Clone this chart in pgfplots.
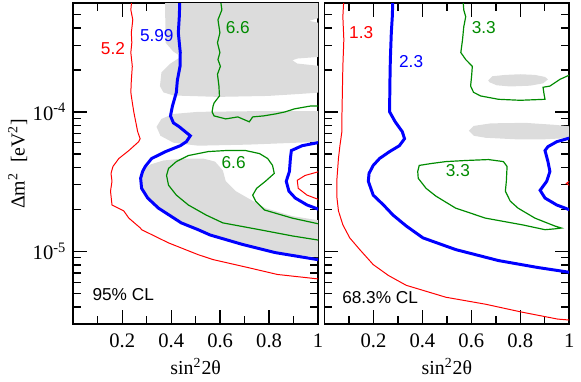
\documentclass[border=0pt]{standalone}
\usepackage{fontspec}
\setmainfont{Liberation Serif}
\newfontfamily\lsans{Liberation Sans}
\usepackage{pgfplots}
\pgfplotsset{compat=1.18}
\definecolor{cred}{RGB}{255,0,0}
\definecolor{cblue}{RGB}{0,0,255}
\definecolor{cgreen}{RGB}{0,139,0}
\definecolor{shade}{HTML}{DCDCDC}
\tikzset{
  thinred/.style={cred, line width=0.5pt},
  thickblue/.style={cblue, line width=1.5pt},
  midgreen/.style={cgreen, line width=0.6pt},
  lab/.style={font=\lsans\fontsize{8.7}{10}\selectfont, inner sep=0pt},
}

\begin{document}
\begin{tikzpicture}
% ---------- 95% CL ----------
\begin{axis}[name=L, ymode=log,
    width=123.5pt, height=162pt, scale only axis,
    xmin=0, xmax=1, ymin=3e-6, ymax=6e-4,
    xtick={0.2,0.4,0.6,0.8,1},
    xticklabels={\textrm{0.2},\textrm{0.4},\textrm{0.6},\textrm{0.8},\textrm{1}},
    minor xtick={0.1,0.3,0.5,0.7,0.9},
    ytick={1e-5,1e-4},
    minor ytick={4e-6,5e-6,6e-6,7e-6,8e-6,9e-6,2e-5,3e-5,4e-5,5e-5,6e-5,7e-5,8e-5,9e-5,2e-4,3e-4,4e-4,5e-4},
    tick align=inside, xtick pos=both, ytick pos=both,
    major tick length=7pt, minor tick length=4pt,
    every tick/.style={black, line width=0.7pt},
    axis line style={line width=0.9pt},
    tick label style={font=\fontsize{10.4}{12}\selectfont},
    xticklabel style={yshift=-1.2pt},
    label style={font=\fontsize{10}{12}\selectfont},
    xlabel={sin\textsuperscript{2}2θ},
    xlabel style={at={(axis description cs:0.5,-0.132)}, anchor=center},
    yticklabels={\textrm{10\textsuperscript{-5}},\textrm{10\textsuperscript{-4}}},
    ylabel={Δm\textsuperscript{2}\ \ [eV\textsuperscript{2}]},
    ylabel style={at={(axis description cs:-0.227,0.5)}, anchor=center}]
\addplot[fill=shade, draw=none] coordinates {(0.377,7e-4) (0.375,5.65e-4) (0.377,3.13e-4) (0.409,2.70e-4) (0.441,2.49e-4) (0.397,2.22e-4) (0.360,1.92e-4) (0.354,1.53e-4) (0.368,1.38e-4) (0.409,1.31e-4) (0.591,1.28e-4) (0.794,1.30e-4) (0.915,1.34e-4) (1.02,1.38e-4) (1.02,2.12e-4) (0.915,2.22e-4) (0.895,2.34e-4) (0.915,2.41e-4) (1.02,2.49e-4) (1.02,4.28e-4) (0.964,4.49e-4) (1.02,4.8e-4) (1.02,7e-4)} -- cycle;
\addplot[fill=shade, draw=none] coordinates {(1.02,1.01e-4) (0.713,1.01e-4) (0.510,1.0e-4) (0.409,9.66e-5) (0.360,8.9e-5) (0.340,7.81e-5) (0.356,6.74e-5) (0.409,6.01e-5) (0.510,5.72e-5) (0.713,5.82e-5) (1.02,6.11e-5)} -- cycle;
\addplot[fill=shade, draw=none] coordinates {(0.275,3.34e-5) (0.287,3.87e-5) (0.316,4.20e-5) (0.368,4.48e-5) (0.449,4.63e-5) (0.530,4.63e-5) (0.579,4.40e-5) (0.611,3.80e-5) (0.623,3.18e-5) (0.664,2.70e-5) (0.713,2.41e-5) (0.785,2.04e-5) (0.895,1.79e-5) (1.02,1.65e-5) (1.02,9.0e-6) (0.826,9.79e-6) (0.692,1.12e-5) (0.559,1.31e-5) (0.510,1.43e-5) (0.441,1.60e-5) (0.348,2.04e-5) (0.304,2.41e-5) (0.279,2.83e-5)} -- cycle;
% 5.2
\addplot[thinred] coordinates {(0.241,7e-4) (0.235,5.38e-4) (0.243,4.57e-4) (0.237,3.69e-4) (0.239,3.13e-4) (0.235,2.66e-4) (0.241,2.12e-4) (0.237,1.68e-4) (0.235,1.38e-4) (0.239,1.23e-4) (0.247,1.0e-4) (0.255,8.48e-5) (0.263,7.2e-5) (0.273,6.42e-5) (0.267,6.11e-5) (0.227,5.28e-5) (0.186,4.63e-5) (0.162,4.06e-5) (0.154,3.62e-5) (0.158,3.18e-5) (0.152,2.70e-5) (0.158,2.15e-5) (0.206,1.95e-5) (0.227,1.73e-5) (0.274,1.47e-5) (0.279,1.43e-5) (0.389,1.15e-5) (0.510,9.47e-6) (0.571,8.73e-6) (0.713,7.66e-6) (0.834,6.83e-6) (1.02,6.29e-6)};
\addplot[thinred] coordinates {(1.02,3.8e-5) (0.947,3.5e-5) (0.915,3.23e-5) (0.919,2.83e-5) (0.955,2.53e-5) (1.02,2.29e-5)};
% 5.99
\addplot[thickblue] coordinates {(0.436,7e-4) (0.433,4.8e-4) (0.429,3.69e-4) (0.437,2.66e-4) (0.436,2.12e-4) (0.425,1.68e-4) (0.421,1.38e-4) (0.405,1.10e-4) (0.397,9.35e-5) (0.409,8.34e-5) (0.433,7.81e-5) (0.478,6.74e-5) (0.462,6.11e-5) (0.437,5.72e-5) (0.377,5.19e-5) (0.320,4.63e-5) (0.294,4.06e-5) (0.283,3.74e-5) (0.275,3.34e-5) (0.279,2.83e-5) (0.304,2.41e-5) (0.348,2.04e-5) (0.441,1.60e-5) (0.510,1.43e-5) (0.559,1.31e-5) (0.692,1.12e-5) (0.826,9.79e-6) (1.02,8.6e-6)};
\addplot[thickblue] coordinates {(1.02,6.11e-5) (0.935,5.72e-5) (0.891,5.28e-5) (0.887,4.63e-5) (0.883,3.74e-5) (0.870,3.18e-5) (0.881,2.70e-5) (0.907,2.41e-5) (0.955,2.15e-5) (1.02,1.95e-5)};
% 6.6
\addplot[midgreen] coordinates {(0.598,7e-4) (0.607,5.38e-4) (0.591,4.57e-4) (0.599,3.69e-4) (0.589,3.13e-4) (0.599,2.66e-4) (0.591,2.37e-4) (0.601,2.12e-4) (0.589,1.86e-4) (0.595,1.53e-4) (0.597,1.30e-4) (0.575,1.156e-4) (0.571,1.10e-4) (0.567,1.0e-4) (0.575,9.35e-5) (0.623,8.9e-5) (0.672,9.2e-5) (0.719,8.48e-5) (0.733,9.2e-5) (0.777,9.35e-5) (0.826,9.66e-5) (0.866,1.0e-4) (0.903,1.05e-4) (0.968,1.10e-4) (1.02,1.10e-4)};
\addplot[midgreen] coordinates {(1.02,1.55e-5) (0.895,1.73e-5) (0.781,1.98e-5) (0.745,2.29e-5) (0.733,2.53e-5) (0.749,2.83e-5) (0.785,3.18e-5) (0.821,3.62e-5) (0.814,4.13e-5) (0.794,4.63e-5) (0.761,5.02e-5) (0.704,5.28e-5) (0.623,5.28e-5) (0.551,5.19e-5) (0.470,4.86e-5) (0.421,4.40e-5) (0.389,3.93e-5) (0.381,3.50e-5) (0.389,2.98e-5) (0.421,2.53e-5) (0.470,2.15e-5) (0.543,1.82e-5) (0.611,1.60e-5) (0.761,1.43e-5) (0.895,1.29e-5) (1.02,1.19e-5)};
\node[lab, text=cred] at (axis cs:0.162,2.84e-4) {5.2};
\node[lab, text=cblue] at (axis cs:0.341,3.54e-4) {5.99};
\node[lab, text=cgreen] at (axis cs:0.672,4.04e-4) {6.6};
\node[lab, text=cgreen] at (axis cs:0.655,4.34e-5) {6.6};
\node[lab, anchor=west] at (axis cs:0.077,4.92e-6) {95\% CL};
\end{axis}
% ---------- 68.3% CL ----------
\begin{axis}[name=R, at={(126.75pt,0)}, ymode=log,
    width=123.5pt, height=162pt, scale only axis,
    xmin=0, xmax=1, ymin=3e-6, ymax=6e-4,
    xtick={0.2,0.4,0.6,0.8,1},
    xticklabels={\textrm{0.2},\textrm{0.4},\textrm{0.6},\textrm{0.8},\textrm{1}},
    minor xtick={0.1,0.3,0.5,0.7,0.9},
    ytick={1e-5,1e-4}, yticklabels={},
    minor ytick={4e-6,5e-6,6e-6,7e-6,8e-6,9e-6,2e-5,3e-5,4e-5,5e-5,6e-5,7e-5,8e-5,9e-5,2e-4,3e-4,4e-4,5e-4},
    tick align=inside, xtick pos=both, ytick pos=both,
    major tick length=7pt, minor tick length=4pt,
    every tick/.style={black, line width=0.7pt},
    axis line style={line width=0.9pt},
    tick label style={font=\fontsize{10.4}{12}\selectfont},
    xticklabel style={yshift=-1.2pt},
    label style={font=\fontsize{10}{12}\selectfont},
    xlabel={sin\textsuperscript{2}2θ},
    xlabel style={at={(axis description cs:0.5,-0.132)}, anchor=center}]
\addplot[fill=shade, draw=none] coordinates {(0.669,1.68e-4) (0.686,1.80e-4) (0.739,1.84e-4) (0.800,1.86e-4) (0.860,1.84e-4) (0.901,1.78e-4) (0.913,1.71e-4) (0.893,1.60e-4) (0.840,1.54e-4) (0.759,1.52e-4) (0.704,1.55e-4) (0.674,1.63e-4)} -- cycle;
\addplot[fill=shade, draw=none] coordinates {(0.590,7.31e-5) (0.610,7.93e-5) (0.680,8.27e-5) (0.820,8.34e-5) (0.941,8.07e-5) (1.02,7.81e-5) (1.02,6.52e-5) (0.901,6.36e-5) (0.779,6.36e-5) (0.658,6.52e-5) (0.610,6.74e-5)} -- cycle;
% 1.3
\addplot[thinred] coordinates {(0.080,7e-4) (0.075,4.8e-4) (0.079,3.29e-4) (0.075,2.12e-4) (0.073,1.38e-4) (0.071,8.9e-5) (0.071,7.2e-5) (0.063,5.72e-5) (0.057,4.63e-5) (0.051,3.34e-5) (0.051,2.41e-5) (0.057,1.95e-5) (0.075,1.55e-5) (0.103,1.25e-5) (0.144,1.03e-5) (0.199,8.04e-6) (0.261,6.72e-6) (0.334,5.71e-6) (0.496,4.69e-6) (0.658,4.18e-6) (0.806,3.67e-6) (0.953,3.27e-6) (1.02,3.2e-6)};
\addplot[thinred] coordinates {(1.02,3.34e-5) (0.988,3.07e-5) (1.02,2.83e-5)};
% 2.3
\addplot[thickblue] coordinates {(0.280,7e-4) (0.277,4.8e-4) (0.273,3.69e-4) (0.269,2.37e-4) (0.267,1.53e-4) (0.266,1.0e-4) (0.289,8.48e-5) (0.318,7.2e-5) (0.327,6.42e-5) (0.306,5.72e-5) (0.266,5.19e-5) (0.225,4.63e-5) (0.199,4.13e-5) (0.182,3.62e-5) (0.179,3.18e-5) (0.199,2.53e-5) (0.241,2.15e-5) (0.280,1.82e-5) (0.334,1.52e-5) (0.402,1.25e-5) (0.536,1.03e-5) (0.711,8.59e-6) (0.872,7.66e-6) (1.02,7.0e-6)};
\addplot[thickblue] coordinates {(1.02,6.63e-5) (0.949,6.11e-5) (0.913,5.63e-5) (0.901,5.28e-5) (0.913,4.40e-5) (0.921,3.74e-5) (0.908,3.18e-5) (0.881,2.74e-5) (0.901,2.41e-5) (0.949,2.15e-5) (1.02,1.93e-5)};
% 3.3
\addplot[midgreen] coordinates {(0.564,7e-4) (0.569,5.38e-4) (0.577,4.8e-4) (0.569,4.07e-4) (0.564,3.29e-4) (0.557,2.66e-4) (0.577,2.37e-4) (0.604,2.12e-4) (0.601,1.80e-4) (0.597,1.53e-4) (0.609,1.38e-4) (0.638,1.30e-4) (0.711,1.23e-4) (0.800,1.21e-4) (0.901,1.23e-4) (0.897,1.34e-4) (0.893,1.50e-4) (0.921,1.53e-4) (0.962,1.71e-4) (1.02,1.9e-4)};
\addplot[midgreen] coordinates {(0.381,3.74e-5) (0.387,4.13e-5) (0.435,4.26e-5) (0.496,4.40e-5) (0.577,4.48e-5) (0.670,4.55e-5) (0.731,4.40e-5) (0.746,4.06e-5) (0.743,3.18e-5) (0.739,2.70e-5) (0.759,2.29e-5) (0.791,2.04e-5) (0.860,1.73e-5) (0.941,1.52e-5) (0.968,1.47e-5) (0.941,1.45e-5) (0.901,1.43e-5) (0.808,1.55e-5) (0.658,1.73e-5) (0.536,2.04e-5) (0.455,2.49e-5) (0.415,2.83e-5) (0.383,3.34e-5)} -- cycle;
\node[lab, text=cred] at (axis cs:0.150,3.71e-4) {1.3};
\node[lab, text=cblue] at (axis cs:0.354,2.31e-4) {2.3};
\node[lab, text=cgreen] at (axis cs:0.651,4.05e-4) {3.3};
\node[lab, text=cgreen] at (axis cs:0.545,3.78e-5) {3.3};
\node[lab, anchor=west] at (axis cs:0.071,4.65e-6) {68.3\% CL};
\end{axis}
\path ([shift={(-37pt,-26.85pt)}]L.south west) rectangle ([shift={(3.25pt,1.65pt)}]R.north east);
\end{tikzpicture}
\end{document}
